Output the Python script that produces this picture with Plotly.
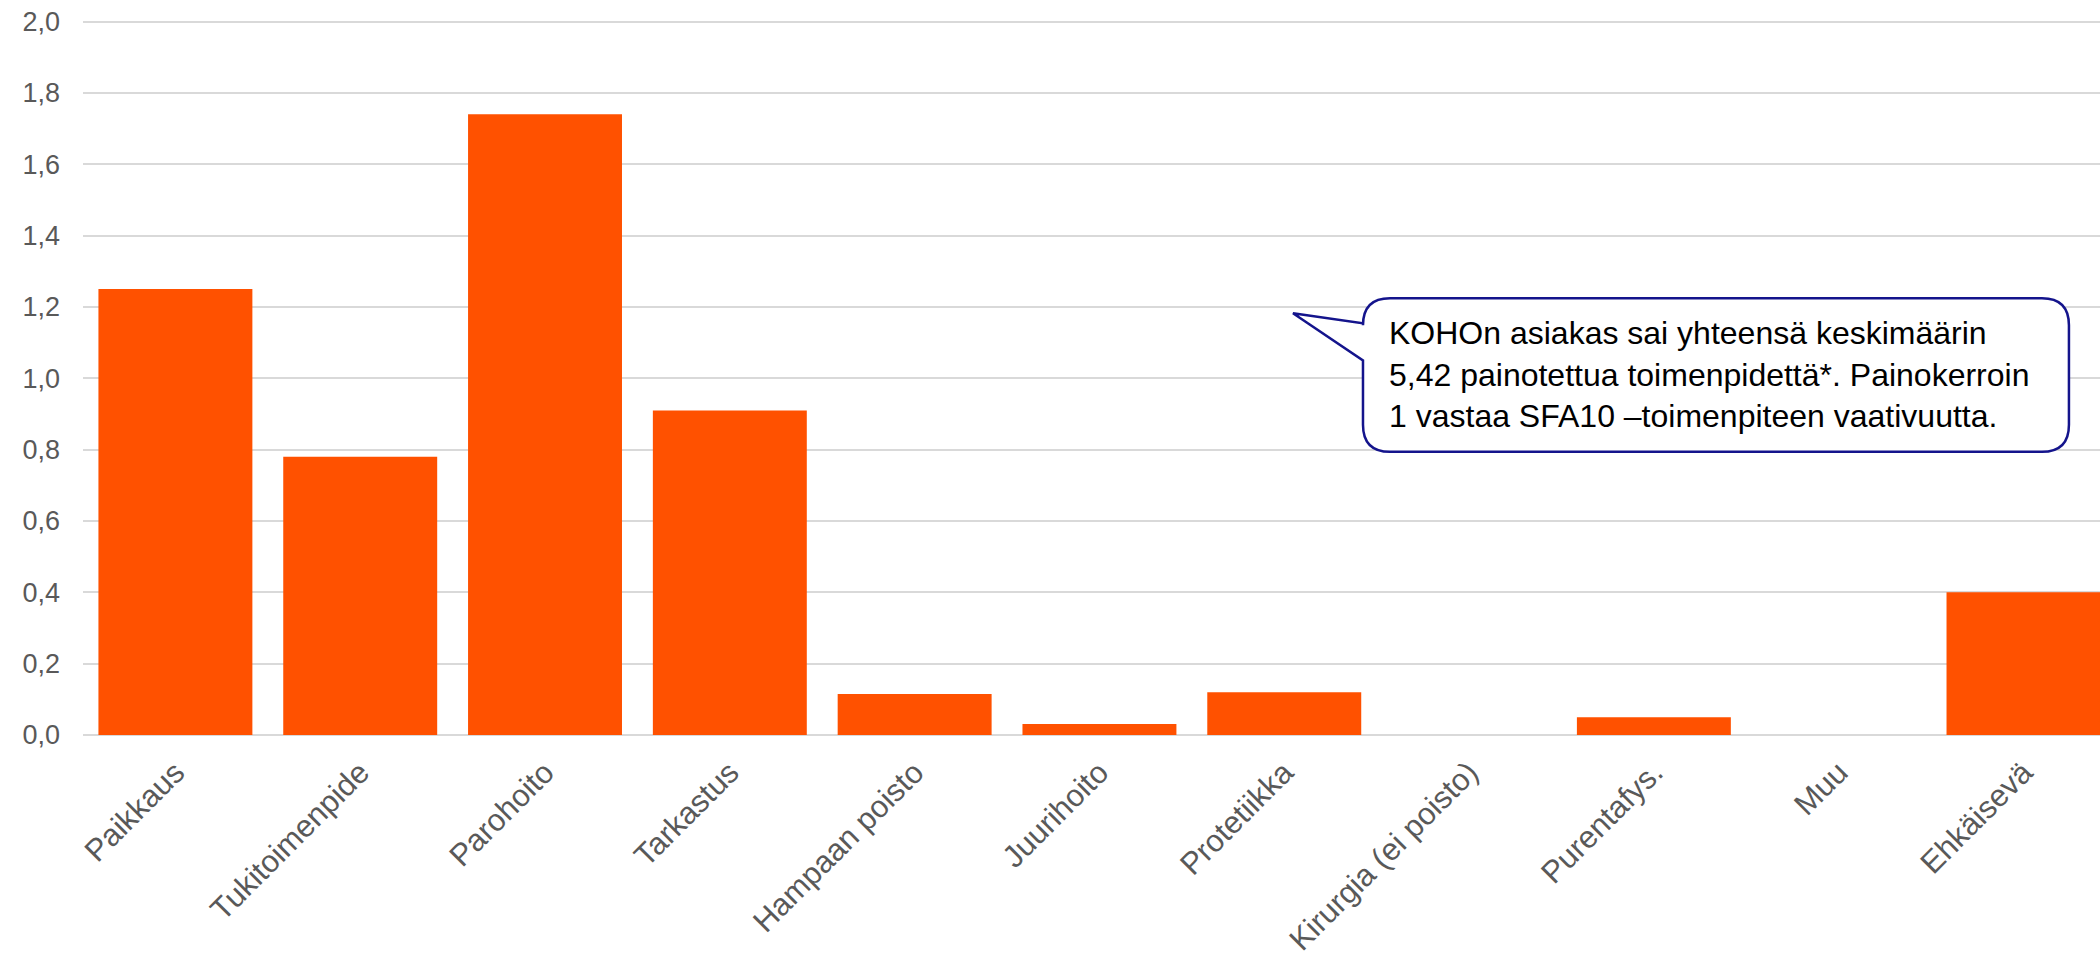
import plotly.graph_objects as go

categories = ["Paikkaus", "Tukitoimenpide", "Parohoito", "Tarkastus", "Hampaan poisto",
              "Juurihoito", "Protetiikka", "Kirurgia (ei poisto)", "Purentafys.", "Muu", "Ehkäisevä"]
values = [1.25, 0.78, 1.74, 0.91, 0.115, 0.031, 0.12, 0.0, 0.05, 0.0, 0.40]
y_ticks = [0.0, 0.2, 0.4, 0.6, 0.8, 1.0, 1.2, 1.4, 1.6, 1.8, 2.0]
callout_text = ("KOHOn asiakas sai yhteensä keskimäärin<br>"
                "5,42 painotettua toimenpidettä*. Painokerroin<br>"
                "1 vastaa SFA10 –toimenpiteen vaativuutta.")

BAR = "#FF5100"
FONT = "Liberation Sans, Arial, sans-serif"

fig = go.Figure()
fig.add_trace(go.Bar(x=categories, y=values, marker=dict(color=BAR, line=dict(width=0)),
                     hoverinfo="x+y"))

# callout box (paper coords)
x0, x1, yb, yt = 0.6346, 0.9846, 0.395, 0.6092
rx, ry = 0.0134, 0.0378
path = (f"M {x0+rx},{yt} L {x1-rx},{yt} Q {x1},{yt} {x1},{yt-ry} "
        f"L {x1},{yb+ry} Q {x1},{yb} {x1-rx},{yb} L {x0+rx},{yb} "
        f"Q {x0},{yb} {x0},{yb+ry} L {x0},0.5224 L 0.5999,0.5882 L {x0},0.5742 "
        f"L {x0},{yt-ry} Q {x0},{yt} {x0+rx},{yt} Z")
fig.add_shape(type="path", path=path, xref="paper", yref="paper",
              line=dict(color="#14148C", width=2.5), fillcolor="white", layer="above")
fig.add_annotation(text=callout_text, xref="paper", yref="paper", x=0.6465, y=0.5028,
                   xanchor="left", yanchor="middle", align="left", showarrow=False,
                   font=dict(family=FONT, size=32, color="black"))

fig.update_layout(
    width=2100, height=957,
    margin=dict(l=83, r=0, t=18, b=222),
    paper_bgcolor="white", plot_bgcolor="white",
    separators=", ",
    bargap=0.167,
    showlegend=False,
    font=dict(family=FONT, color="#595959"),
)
fig.update_xaxes(type="category", range=[-0.5, 10.414], tickangle=-45,
                 tickfont=dict(family=FONT, size=31, color="#595959"),
                 showgrid=False, showline=False, ticks="", ticklabelstandoff=12)
fig.update_yaxes(range=[0, 2.01], tickvals=y_ticks, tickformat=".1f",
                 tickfont=dict(family=FONT, size=27, color="#595959"),
                 showgrid=True, gridcolor="#D9D9D9", gridwidth=1.5,
                 zeroline=True, zerolinecolor="#D9D9D9", zerolinewidth=2,
                 showline=False, ticks="", ticklabelstandoff=22)

fig.write_html("out.html")
